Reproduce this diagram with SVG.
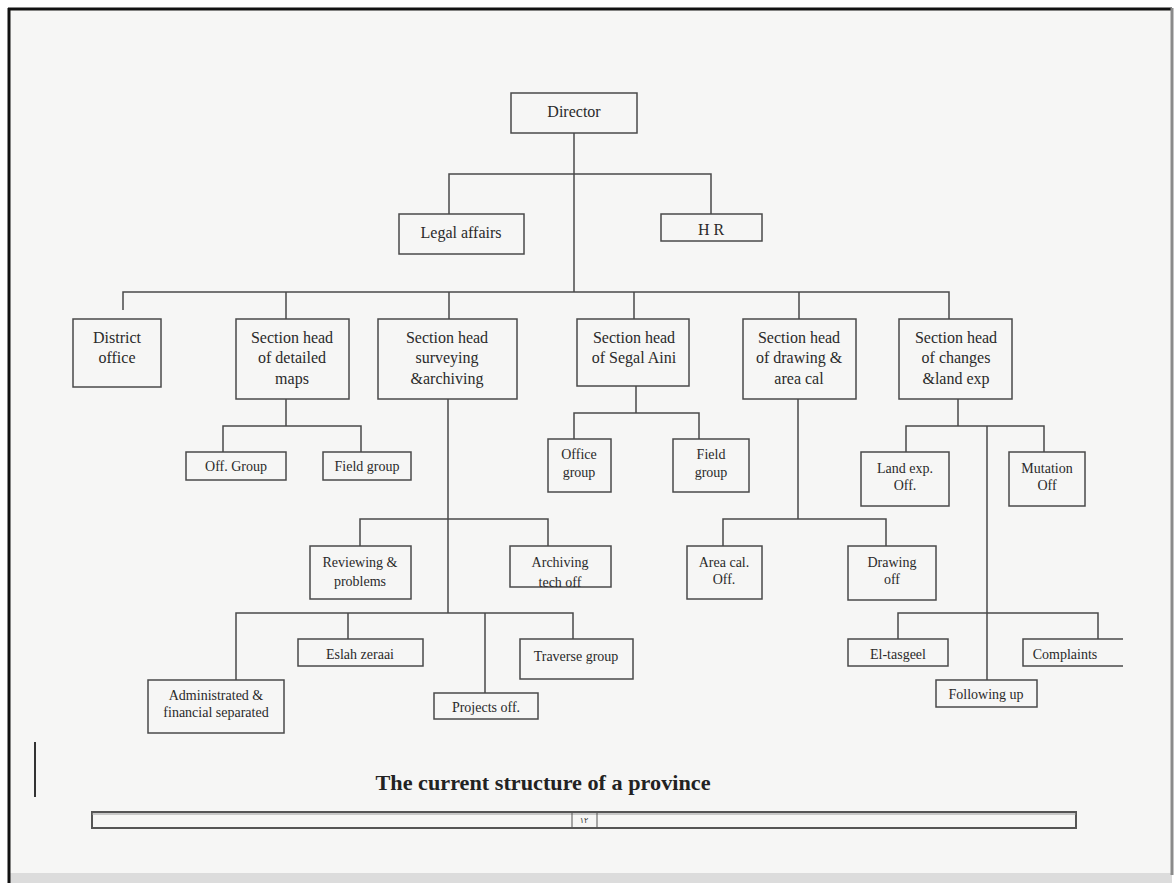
<svg xmlns="http://www.w3.org/2000/svg" width="1176" height="883" viewBox="0 0 1176 883">
<style>
.bx{fill:none;stroke:#4a4a4a;stroke-width:1.5}
.ln{fill:none;stroke:#4a4a4a;stroke-width:1.5}
.t{font-family:"Liberation Serif","Times New Roman",serif;fill:#2a2a2a;text-anchor:middle;dominant-baseline:central}
.l{font-size:16px}
.s{font-size:14px}
</style>
<defs>
<clipPath id="clipArch"><rect x="510" y="546" width="101" height="41"/></clipPath>
</defs>
<rect x="0" y="0" width="1176" height="883" fill="#ffffff"/>
<rect x="9" y="9" width="1163" height="866" fill="#f6f6f5"/>
<rect x="9" y="873" width="1163" height="10" fill="#dcdcdc"/>
<line x1="8" y1="9" x2="1172" y2="9" stroke="#111" stroke-width="3"/>
<line x1="9" y1="8" x2="9" y2="883" stroke="#111" stroke-width="3"/>
<line x1="1172" y1="8" x2="1172" y2="875" stroke="#8a8a8a" stroke-width="3"/>

<g id="connectors" class="ln">
<path d="M574 133V292"/>
<path d="M449 214V174H711V214"/>
<path d="M123 310V292H949V319M286 292V319M449 292V319M634 292V319M799 292V319"/>
<path d="M286 399V426M223 452V426H361V452"/>
<path d="M448 399V613M360 546V519H548V546M236 680V613H573V639M348 613V639M485 613V693"/>
<path d="M636 386V413M574 439V413H699V439"/>
<path d="M798 399V519M723 546V519H886V546"/>
<path d="M958 399V426M906 452V426H1044V452M987 426V680M898 639V613H1098V639"/>
</g>

<g id="director"><rect class="bx" x="511" y="93" width="126" height="40"/><text class="t l" x="574" y="111">Director</text></g>
<g id="legal"><rect class="bx" x="399" y="214" width="125" height="40"/><text class="t l" x="461" y="232">Legal affairs</text></g>
<g id="hr"><rect class="bx" x="661" y="214" width="101" height="27"/><text class="t l" x="711" y="229">H R</text></g>

<g id="district"><rect class="bx" x="73" y="319" width="88" height="68"/><text class="t l" x="117" y="337">District</text><text class="t l" x="117" y="357">office</text></g>
<g id="detailed"><rect class="bx" x="236" y="319" width="113" height="80"/><text class="t l" x="292" y="337">Section head</text><text class="t l" x="292" y="357">of detailed</text><text class="t l" x="292" y="378">maps</text></g>
<g id="surveying"><rect class="bx" x="378" y="319" width="139" height="80"/><text class="t l" x="447" y="337">Section head</text><text class="t l" x="447" y="357">surveying</text><text class="t l" x="447" y="378">&amp;archiving</text></g>
<g id="segal"><rect class="bx" x="577" y="319" width="112" height="67"/><text class="t l" x="634" y="337">Section head</text><text class="t l" x="634" y="357">of Segal Aini</text></g>
<g id="drawing"><rect class="bx" x="743" y="319" width="113" height="80"/><text class="t l" x="799" y="337">Section head</text><text class="t l" x="799" y="357">of drawing &amp;</text><text class="t l" x="799" y="378">area cal</text></g>
<g id="changes"><rect class="bx" x="899" y="319" width="113" height="80"/><text class="t l" x="956" y="337">Section head</text><text class="t l" x="956" y="357">of changes</text><text class="t l" x="956" y="378">&amp;land exp</text></g>

<g id="offgroup"><rect class="bx" x="186" y="452" width="100" height="28"/><text class="t s" x="236" y="466">Off. Group</text></g>
<g id="fieldgroup1"><rect class="bx" x="323" y="452" width="88" height="28"/><text class="t s" x="367" y="466">Field group</text></g>
<g id="officegroup"><rect class="bx" x="548" y="439" width="63" height="53"/><text class="t s" x="579" y="454">Office</text><text class="t s" x="579" y="472">group</text></g>
<g id="fieldgroup2"><rect class="bx" x="673" y="439" width="76" height="53"/><text class="t s" x="711" y="454">Field</text><text class="t s" x="711" y="472">group</text></g>
<g id="landexp"><rect class="bx" x="861" y="452" width="88" height="54"/><text class="t s" x="905" y="468">Land exp.</text><text class="t s" x="905" y="485">Off.</text></g>
<g id="mutation"><rect class="bx" x="1009" y="452" width="76" height="54"/><text class="t s" x="1047" y="468">Mutation</text><text class="t s" x="1047" y="485">Off</text></g>

<g id="reviewing"><rect class="bx" x="310" y="546" width="101" height="53"/><text class="t s" x="360" y="562">Reviewing &amp;</text><text class="t s" x="360" y="581">problems</text></g>
<g id="archiving"><rect class="bx" x="510" y="546" width="101" height="41"/><g clip-path="url(#clipArch)"><text class="t s" x="560" y="562">Archiving</text><text class="t s" x="560" y="582">tech off</text></g></g>
<g id="areacal"><rect class="bx" x="687" y="546" width="75" height="53"/><text class="t s" x="724" y="562">Area cal.</text><text class="t s" x="724" y="579">Off.</text></g>
<g id="drawingoff"><rect class="bx" x="848" y="546" width="88" height="54"/><text class="t s" x="892" y="562">Drawing</text><text class="t s" x="892" y="579">off</text></g>

<g id="admin"><rect class="bx" x="148" y="680" width="136" height="53"/><text class="t s" x="216" y="695">Administrated &amp;</text><text class="t s" x="216" y="712">financial separated</text></g>
<g id="eslah"><rect class="bx" x="298" y="639" width="125" height="27"/><text class="t s" x="360" y="654">Eslah zeraai</text></g>
<g id="projects"><rect class="bx" x="434" y="693" width="104" height="26"/><text class="t s" x="486" y="707">Projects off.</text></g>
<g id="traverse"><rect class="bx" x="520" y="639" width="113" height="40"/><text class="t s" x="576" y="656">Traverse group</text></g>

<g id="eltasgeel"><rect class="bx" x="848" y="639" width="100" height="27"/><text class="t s" x="898" y="654">El-tasgeel</text></g>
<g id="complaints"><path class="bx" d="M1123 639H1023V666H1123"/><text class="t s" x="1065" y="654">Complaints</text></g>
<g id="followingup"><rect class="bx" x="936" y="680" width="101" height="27"/><text class="t s" x="986" y="694">Following up</text></g>

<line x1="35" y1="742" x2="35" y2="797" stroke="#333" stroke-width="2"/>
<text x="543" y="783" font-family="'Liberation Serif','Times New Roman',serif" font-weight="bold" font-size="21" text-anchor="middle" dominant-baseline="central" fill="#222" textLength="335" lengthAdjust="spacingAndGlyphs">The current structure of a province</text>

<g id="footer">
<rect x="92" y="812" width="984" height="16" fill="none" stroke="#555" stroke-width="2"/>
<line x1="92" y1="814" x2="1076" y2="814" stroke="#999" stroke-width="1"/>
<line x1="572" y1="812" x2="572" y2="828" stroke="#555" stroke-width="1"/>
<line x1="597" y1="812" x2="597" y2="828" stroke="#555" stroke-width="1"/>
<text x="584" y="820" font-family="'DejaVu Sans',sans-serif" font-size="8" text-anchor="middle" dominant-baseline="central" fill="#333">١٢</text>
</g>
</svg>
